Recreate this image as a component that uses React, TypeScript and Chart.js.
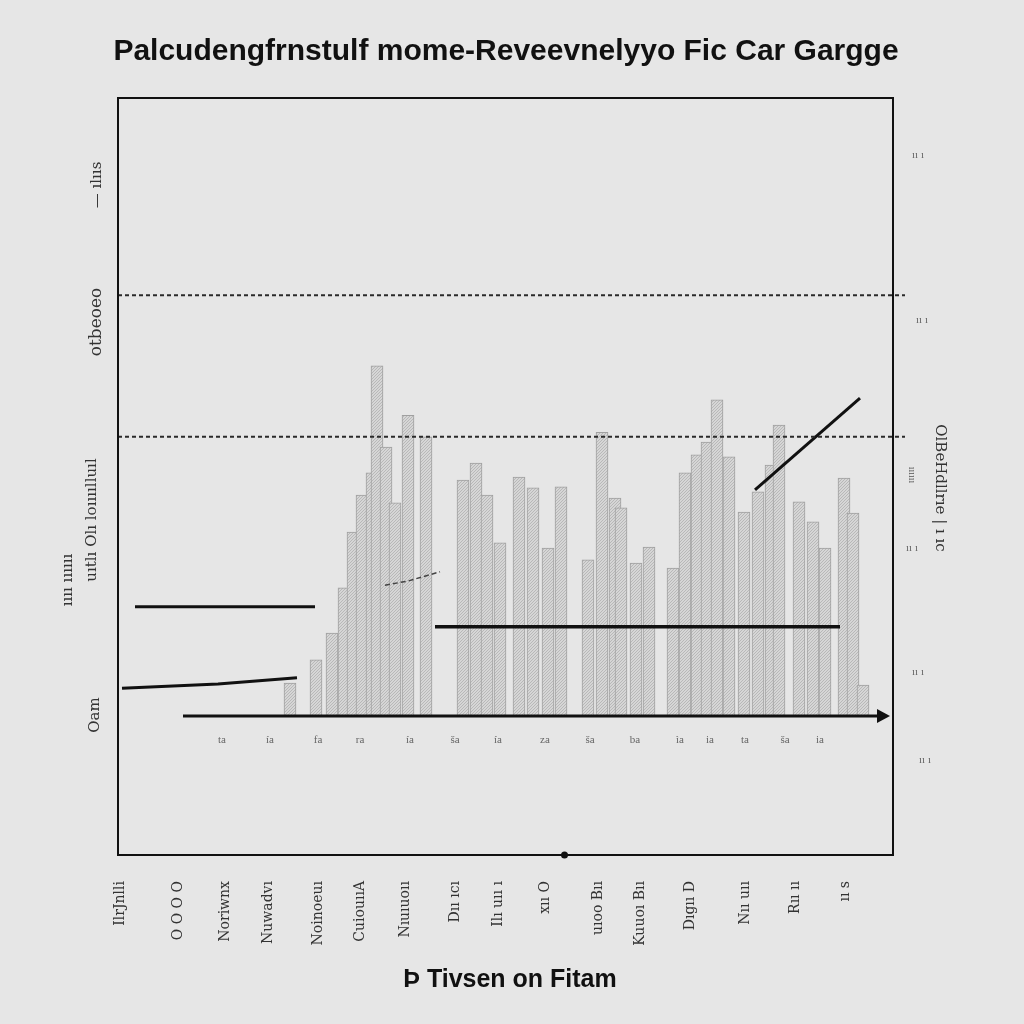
import React, { useEffect, useRef } from "react";
import { Chart, registerables } from "chart.js";

Chart.register(...registerables);

const titleText = "Palcudengfrnstulf mome-Reveevnelyyo Fic Car Gargge";
const xAxisTitle = "Þ Tivsen on Fitam";

// bar positions (day) and heights (value)
const barDays = [34.4, 39.6, 42.8, 45.2, 47.0, 48.8, 50.8, 51.8, 53.6, 55.4, 58.0, 61.6, 69.0, 71.6, 73.8, 76.4, 80.2, 83.0, 86.0, 88.6, 94.0, 96.8, 99.4, 100.6, 103.6, 106.2, 111.0, 113.4, 115.8, 117.8, 119.8, 122.2, 125.2, 128.0, 130.6, 132.2, 136.2, 139.0, 141.4, 145.2, 147.0, 149.0];
const barValues = [6.4, 10.9, 16.1, 24.9, 35.7, 42.9, 47.2, 68.0, 52.2, 41.4, 58.4, 54.2, 45.8, 49.1, 42.9, 33.6, 46.4, 44.3, 32.6, 44.5, 30.3, 55.1, 42.3, 40.4, 29.7, 32.8, 28.7, 47.2, 50.7, 53.2, 61.4, 50.3, 39.6, 43.5, 48.7, 56.5, 41.6, 37.7, 32.6, 46.2, 39.4, 6.0];

// black trend segments
const trendADays = [63.4, 144.4];
const trendAValues = [17.3, 17.3];
const trendBDays = [3.4, 39.4];
const trendBValues = [21.2, 21.2];
const trendCDays = [0.8, 20, 35.8];
const trendCValues = [5.4, 6.2, 7.4];
const trendDDays = [127.4, 148.4];
const trendDValues = [43.9, 61.7];
const trendEDays = [53.4, 58, 64.4];
const trendEValues = [25.4, 26.2, 28.0];

const refLineValues = [81.7, 54.2];

const xTickDays = [0.4, 12, 21.4, 30, 40, 48.4, 57.4, 67.4, 76, 85.4, 96, 104.4, 114.4, 125.4, 135.4, 145.4];
const xTickLabels = ["IlrJnlli", "O O O O", "Noriwnx", "Nuwadvı", "Noinoeuı", "CuiouııA", "Nıuıuoıı", "Dıı ıcı", "Ilı uıı ı", "xıı O", "uıoo Bıı", "Kuuoı Bıı", "Dıgıı D", "Nıı uıı", "Rıı ıı", "ıı s"];
const smallTickDays = [20.8, 30.4, 40, 48.4, 58.4, 67.4, 76, 85.4, 94.4, 103.4, 112.4, 118.4, 125.4, 133.4, 140.4];
const smallTickLabels = ["ta", "ía", "fa", "ra", "ía", "ša", "ía", "za", "ša", "ba", "ìa", "ia", "ta", "ša", "ia"];

const leftLabels = ["— ılııs", "otbeoeo", "uıtlı Olı loıııılluıl", "ıııı ıııııı", "Oam"];
const rightLabels = ["OlBeHdllrıe | ı ıc", "ıııııı", "ıı ı"];

function line(days: number[], values: number[], width: number, color: string, dash: number[] = []) {
  return {
    type: "line" as const,
    data: days.map((d, i) => ({ x: d, y: values[i] })),
    borderColor: color,
    borderWidth: width,
    borderDash: dash,
    pointRadius: 0,
    tension: 0,
    order: 1,
  };
}

function drawRot(ctx: CanvasRenderingContext2D, text: string, x: number, y: number, angle: number, font: string, color: string, align: CanvasTextAlign = "center") {
  ctx.save();
  ctx.translate(x, y);
  ctx.rotate(angle);
  ctx.font = font;
  ctx.fillStyle = color;
  ctx.textAlign = align;
  ctx.textBaseline = "middle";
  ctx.fillText(text, 0, 0);
  ctx.restore();
}

const decorPlugin = {
  id: "decor",
  afterDatasetsDraw(chart: any) {
    const ctx = chart.ctx as CanvasRenderingContext2D;
    const { left, right } = chart.chartArea;
    const y = chart.scales.y;
    const x = chart.scales.x;
    // dashed reference lines
    ctx.save();
    ctx.strokeStyle = "#2a2a2a";
    ctx.lineWidth = 2;
    ctx.setLineDash([4, 3]);
    refLineValues.forEach((v) => {
      const py = y.getPixelForValue(v);
      ctx.beginPath();
      ctx.moveTo(left, py);
      ctx.lineTo(right + 12, py);
      ctx.stroke();
    });
    ctx.restore();
    // baseline arrow
    const y0 = y.getPixelForValue(0);
    const xs = x.getPixelForValue(13);
    ctx.save();
    ctx.strokeStyle = "#111";
    ctx.fillStyle = "#111";
    ctx.lineWidth = 3;
    ctx.beginPath();
    ctx.moveTo(xs, y0);
    ctx.lineTo(right - 12, y0);
    ctx.stroke();
    ctx.beginPath();
    ctx.moveTo(right - 3, y0);
    ctx.lineTo(right - 16, y0 - 7);
    ctx.lineTo(right - 16, y0 + 7);
    ctx.closePath();
    ctx.fill();
    ctx.restore();
    // small labels under baseline
    smallTickDays.forEach((d, i) => {
      drawRot(ctx, smallTickLabels[i], x.getPixelForValue(d), y0 + 24, 0, "11px serif", "#666");
    });
  },
  afterDraw(chart: any) {
    const ctx = chart.ctx as CanvasRenderingContext2D;
    const { left, right, top, bottom } = chart.chartArea;
    ctx.save();
    ctx.strokeStyle = "#111";
    ctx.lineWidth = 2;
    ctx.strokeRect(left, top, right - left, bottom - top);
    ctx.fillStyle = "#111";
    ctx.beginPath();
    ctx.arc((left + right) / 2 + 59, bottom, 3.5, 0, Math.PI * 2);
    ctx.fill();
    ctx.restore();
    // title
    drawRot(ctx, titleText, 506, 52, 0, "bold 30px 'Liberation Sans', Arial, sans-serif", "#111");
    // x axis title
    drawRot(ctx, xAxisTitle, 510, 980, 0, "bold 25px 'Liberation Sans', Arial, sans-serif", "#111");
    // left labels
    const f = "15px 'DejaVu Serif', serif";
    drawRot(ctx, leftLabels[0], 97, 185, -Math.PI / 2, f, "#333");
    drawRot(ctx, leftLabels[1], 97, 322, -Math.PI / 2, "17px 'DejaVu Serif', serif", "#333");
    drawRot(ctx, leftLabels[2], 92, 520, -Math.PI / 2, f, "#333");
    drawRot(ctx, leftLabels[3], 68, 580, -Math.PI / 2, f, "#333");
    drawRot(ctx, leftLabels[4], 95, 715, -Math.PI / 2, f, "#333");
    // right labels
    drawRot(ctx, rightLabels[0], 940, 488, Math.PI / 2, "15px 'DejaVu Serif', serif", "#333");
    drawRot(ctx, rightLabels[1], 912, 475, Math.PI / 2, "10px serif", "#555");
    drawRot(ctx, rightLabels[2], 918, 155, 0, "11px serif", "#666");
    drawRot(ctx, rightLabels[2], 922, 320, 0, "11px serif", "#666");
    drawRot(ctx, rightLabels[2], 912, 548, 0, "11px serif", "#666");
    drawRot(ctx, rightLabels[2], 918, 672, 0, "11px serif", "#666");
    drawRot(ctx, rightLabels[2], 925, 760, 0, "11px serif", "#666");
  },
};

export default function App() {
  const ref = useRef<HTMLCanvasElement>(null);
  useEffect(() => {
    if (!ref.current) return;
    const pc = document.createElement("canvas");
    pc.width = 3;
    pc.height = 3;
    const pctx = pc.getContext("2d")!;
    pctx.fillStyle = "#d6d6d6";
    pctx.fillRect(0, 0, 3, 3);
    pctx.fillStyle = "#b8b8b8";
    pctx.fillRect(0, 0, 1, 1);
    pctx.fillRect(2, 1, 1, 1);
    pctx.fillRect(1, 2, 1, 1);
    const pattern = pctx.createPattern(pc, "repeat")!;

    const chart = new Chart(ref.current, {
      type: "bar",
      data: {
        datasets: [
          line(trendADays, trendAValues, 3.5, "#111"),
          line(trendBDays, trendBValues, 3, "#111"),
          line(trendCDays, trendCValues, 3, "#111"),
          line(trendDDays, trendDValues, 3, "#111"),
          line(trendEDays, trendEValues, 1.5, "#444", [5, 3]),
          {
            type: "bar",
            data: barDays.map((d, i) => ({ x: d, y: barValues[i] })),
            backgroundColor: pattern as any,
            borderColor: "#a0a0a0",
            borderWidth: 1,
            barThickness: 12,
            order: 2,
          } as any,
        ],
      },
      options: {
        responsive: false,
        animation: false,
        layout: { padding: { top: 98, left: 0, right: 0, bottom: 0 } },
        plugins: { legend: { display: false }, tooltip: { enabled: false }, title: { display: false } },
        scales: {
          x: {
            type: "linear",
            offset: false,
            min: 0,
            max: 155,
            grid: { display: false, offset: false },
            border: { display: false },
            afterBuildTicks: (scale: any) => {
              scale.ticks = xTickDays.map((v) => ({ value: v }));
            },
            afterFit: (scale: any) => {
              scale.height = 169;
            },
            ticks: {
              autoSkip: false,
              minRotation: 90,
              maxRotation: 90,
              padding: 18,
              color: "#333",
              font: { size: 14, family: "'DejaVu Serif', serif" },
              callback: (_v: any, i: number) => xTickLabels[i] ?? "",
            },
          },
          y: {
            min: -27,
            max: 120,
            grid: { display: false },
            border: { display: false },
            ticks: { display: false },
            afterFit: (scale: any) => {
              scale.width = 118;
            },
          },
          y2: {
            position: "right",
            min: 0,
            max: 1,
            grid: { display: false },
            border: { display: false },
            ticks: { display: false },
            afterFit: (scale: any) => {
              scale.width = 131;
            },
          },
        },
      },
      plugins: [decorPlugin],
    });
    return () => chart.destroy();
  }, []);
  return (
    <div style={{ position: "fixed", left: 0, top: 0, width: 1024, height: 1024, background: "#e6e6e6" }}>
      <canvas ref={ref} width={1024} height={1024} style={{ display: "block", width: 1024, height: 1024 }} />
    </div>
  );
}
